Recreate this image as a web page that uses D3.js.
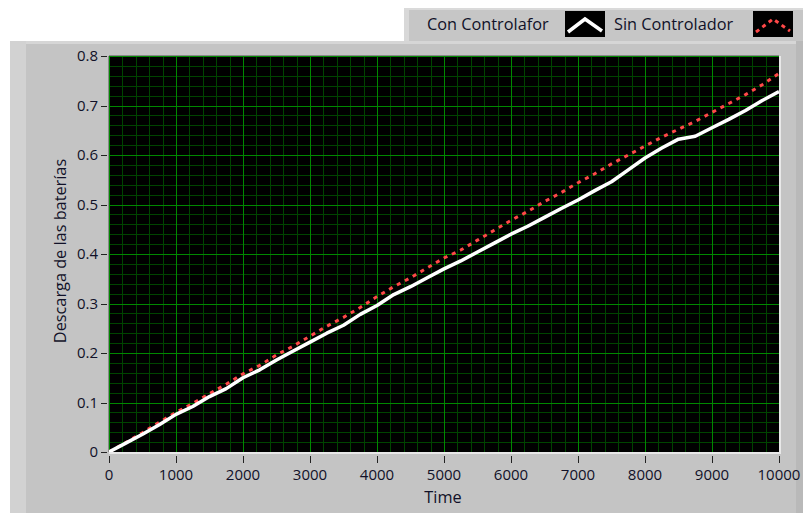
<!DOCTYPE html>
<html><head><meta charset="utf-8">
<script src="https://cdn.jsdelivr.net/npm/d3@7"></script>
<style>html,body{margin:0;padding:0;background:#fff;}svg{display:block;font-family:"Open Sans","Noto Sans",sans-serif;}</style>
</head><body><svg id="c" width="803" height="513"></svg>
<script>
const times = [0,250,500,750,1000,1250,1500,1750,2000,2250,2500,2750,3000,3250,3500,3750,4000,4250,4500,4750,5000,5250,5500,5750,6000,6250,6500,6750,7000,7250,7500,7750,8000,8250,8500,8750,9000,9250,9500,9750,10000];
const conControl = [0,0.018,0.036,0.055,0.076,0.092,0.112,0.128,0.150,0.166,0.186,0.204,0.222,0.240,0.256,0.278,0.296,0.318,0.334,0.352,0.370,0.386,0.404,0.422,0.440,0.456,0.474,0.492,0.509,0.528,0.546,0.570,0.594,0.614,0.632,0.638,0.655,0.672,0.690,0.710,0.728];
const sinControl = [0,0.019,0.039,0.060,0.080,0.098,0.118,0.137,0.158,0.175,0.196,0.214,0.234,0.254,0.272,0.292,0.314,0.334,0.352,0.372,0.392,0.408,0.428,0.448,0.468,0.486,0.506,0.524,0.544,0.562,0.582,0.600,0.618,0.636,0.652,0.668,0.686,0.704,0.722,0.742,0.765];
const xTicks = [0,1000,2000,3000,4000,5000,6000,7000,8000,9000,10000];
const yTicks = [0,0.1,0.2,0.3,0.4,0.5,0.6,0.7,0.8];
const legendLabels = ["Con Controlafor","Sin Controlador"];

const svg = d3.select("#c");
// panel
svg.append("rect").attr("x",10).attr("y",41).attr("width",793).attr("height",472).attr("fill","#c4c4c4");
svg.append("rect").attr("x",10).attr("y",41).attr("width",793).attr("height",3).attr("fill","#d6d6d6");
svg.append("rect").attr("x",10).attr("y",41).attr("width",16).attr("height",472).attr("fill","#d2d2d2");
svg.append("rect").attr("x",796).attr("y",41).attr("width",7).attr("height",472).attr("fill","#b9b9b9");
// legend box
svg.append("rect").attr("x",404).attr("y",8).attr("width",399).attr("height",33).attr("fill","#c6c6c6");
svg.append("rect").attr("x",404).attr("y",8).attr("width",5).attr("height",33).attr("fill","#d8d8d8");
svg.append("rect").attr("x",404).attr("y",8).attr("width",399).attr("height",2).attr("fill","#dadada");

const L=109,R=779,T=56,B=452;
const x = d3.scaleLinear().domain([0,10000]).range([L,R]);
const y = d3.scaleLinear().domain([0,0.8]).range([B,T]);

svg.append("rect").attr("x",L).attr("y",T).attr("width",R-L).attr("height",B-T).attr("fill","#000");
const g = svg.append("g");
const xMinor = d3.range(0,10001,200), yMinor = d3.range(0,0.8001,0.02);
g.selectAll(".xm").data(xMinor).join("line").attr("x1",d=>Math.round(x(d))+0.5).attr("x2",d=>Math.round(x(d))+0.5).attr("y1",T).attr("y2",B).attr("stroke","#004400").attr("stroke-width",1);
g.selectAll(".ym").data(yMinor).join("line").attr("y1",d=>Math.round(y(d))+0.5).attr("y2",d=>Math.round(y(d))+0.5).attr("x1",L).attr("x2",R).attr("stroke","#004400").attr("stroke-width",1);
g.selectAll(".xM").data(xTicks).join("line").attr("x1",d=>Math.round(x(d))+0.5).attr("x2",d=>Math.round(x(d))+0.5).attr("y1",T).attr("y2",B).attr("stroke","#008800").attr("stroke-width",1);
g.selectAll(".yM").data(yTicks).join("line").attr("y1",d=>Math.round(y(d))+0.5).attr("y2",d=>Math.round(y(d))+0.5).attr("x1",L).attr("x2",R).attr("stroke","#008800").attr("stroke-width",1);

svg.append("clipPath").attr("id","pc").append("rect").attr("x",L).attr("y",T).attr("width",R-L).attr("height",B-T);
const line = d3.line().x((d,i)=>x(times[i])).y(d=>y(d));
svg.append("path").datum(sinControl).attr("d",line).attr("fill","none").attr("stroke","#ff4848").attr("stroke-width",3).attr("stroke-dasharray","4,5").attr("clip-path","url(#pc)");
svg.append("path").datum(conControl).attr("d",line).attr("fill","none").attr("stroke","#fff").attr("stroke-width",3.5).attr("stroke-linejoin","round").attr("clip-path","url(#pc)");

svg.append("line").attr("x1",L).attr("x2",R+2).attr("y1",B+1).attr("y2",B+1).attr("stroke","#e8e8e8").attr("stroke-width",2);
svg.append("line").attr("x1",R+1).attr("x2",R+1).attr("y1",T).attr("y2",B+2).attr("stroke","#e8e8e8").attr("stroke-width",2);
svg.append("line").attr("x1",L-0.5).attr("x2",L-0.5).attr("y1",T).attr("y2",B).attr("stroke","#888").attr("stroke-width",1);
svg.append("line").attr("x1",L).attr("x2",R).attr("y1",T-0.5).attr("y2",T-0.5).attr("stroke","#888").attr("stroke-width",1);

const txt="#111128";
const ya = svg.append("g");
ya.selectAll("line").data(yTicks).join("line").attr("x1",101).attr("x2",107).attr("y1",d=>Math.round(y(d))+0.5).attr("y2",d=>Math.round(y(d))+0.5).attr("stroke","#222");
ya.selectAll("text").data(yTicks).join("text").attr("x",98).attr("y",d=>y(d)).attr("dy","0.36em").attr("text-anchor","end").attr("font-size",15).attr("fill",txt).text(d=>+d.toFixed(1));
const xa = svg.append("g");
xa.selectAll("line").data(xTicks).join("line").attr("x1",d=>Math.round(x(d))+0.5).attr("x2",d=>Math.round(x(d))+0.5).attr("y1",456).attr("y2",463).attr("stroke","#222");
xa.selectAll("text").data(xTicks).join("text").attr("x",d=>x(d)).attr("y",480).attr("text-anchor","middle").attr("font-size",15).attr("fill",txt).text(d=>d);
svg.append("text").attr("x",443).attr("y",503).attr("text-anchor","middle").attr("font-size",16.3).attr("fill",txt).text("Time");
svg.append("text").attr("transform","translate(66,251) rotate(-90)").attr("text-anchor","middle").attr("font-size",16.3).attr("fill",txt).text("Descarga de las baterías");

svg.append("text").attr("x",427).attr("y",30).attr("font-size",16.3).attr("fill",txt).text(legendLabels[0]);
svg.append("text").attr("x",614).attr("y",30).attr("font-size",16.3).attr("fill",txt).text(legendLabels[1]);
const sw = [[565,"#fff",null,3.5],[753,"#ff4848","4,4",3]];
sw.forEach(([sx,col,dash,w])=>{
  svg.append("rect").attr("x",sx).attr("y",11).attr("width",40).attr("height",26).attr("fill","#000");
  const p = svg.append("path").attr("d",`M${sx+3},${32} L${sx+20},${19} L${sx+37},${31}`).attr("fill","none").attr("stroke",col).attr("stroke-width",w);
  if(dash) p.attr("stroke-dasharray",dash);
});
</script></body></html>
